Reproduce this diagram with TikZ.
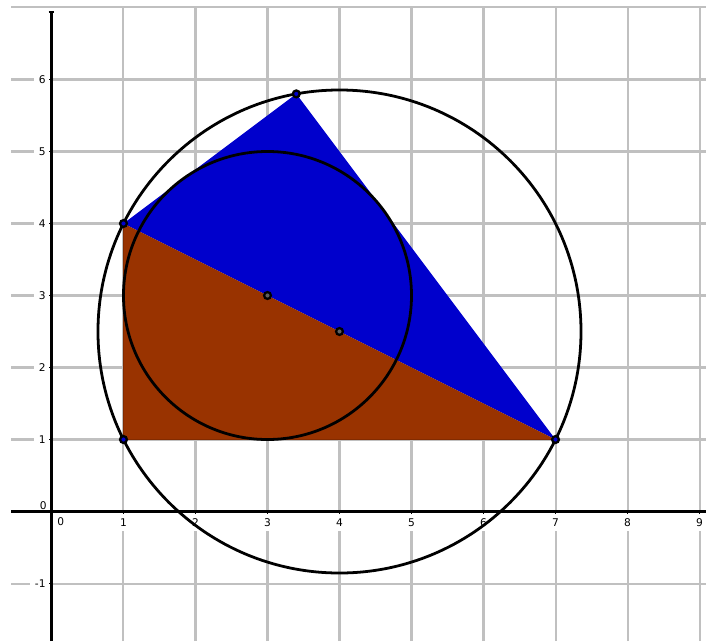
\documentclass[tikz,border=0pt]{standalone}
\usepackage{fontspec}
\setmainfont{DejaVu Sans}
\definecolor{triblue}{HTML}{0000CC}
\definecolor{tribrown}{HTML}{993300}
\definecolor{gridgray}{HTML}{C0C0C0}
\definecolor{ptgray}{HTML}{606060}
\begin{document}
\begin{tikzpicture}[x=1cm,y=1cm,
  gridline/.style={draw=gridgray, line width=0.8pt},
  axisline/.style={draw=black, line width=1.1pt},
  tickmark/.style={draw=black, line width=0.6pt},
  ticklab/.style={font=\fontsize{4.2}{5}\selectfont, fill=white, inner sep=2pt, text depth=0pt},
  zerolab/.style={font=\fontsize{4.2}{5}\selectfont, inner sep=0pt, text depth=0pt},
  circline/.style={draw=black, line width=1.1pt},
  dotpt/.style={circle, draw=black, line width=0.9pt, inner sep=0pt, minimum size=0.095cm},
  vertexpt/.style={dotpt, fill=triblue},
  midpt/.style={dotpt, fill=ptgray}]
\useasboundingbox (-0.715,-1.799) rectangle (9.09,7.104);
% grid
\foreach \x in {1,...,9} \draw[gridline] (\x,-1.8) -- (\x,7);
\foreach \y in {-1,1,2,3,4,5,6,7} \draw[gridline] (-0.56,\y) -- (9.09,\y);
% tick labels
\foreach \x in {1,...,9} \node[ticklab, anchor=north] (xl\x) at (\x,-0.02) {\x};
\foreach \y in {1,...,6} \node[ticklab, anchor=east] (yl\y) at (-0.005,\y) {\y};
\node[ticklab, anchor=east] (ylm1) at (-0.005,-1) {-1};
\node[zerolab] (xl0) at (0.13,-0.142) {0};
\node[zerolab] (yl0) at (-0.114,0.08) {0};
% axes
\draw[axisline] (-0.56,0) -- (9.09,0);
\draw[axisline] (0,-1.8) -- (0,6.94);
\draw[line width=0.8pt] (-0.04,6.94) -- (0.04,6.94);
\foreach \x in {1,...,9} \draw[tickmark] (\x,0) -- (\x,-0.04);
\foreach \y in {-1,1,2,3,4,5,6} \draw[tickmark] (0,\y) -- (-0.04,\y);
% key coordinates
\coordinate (a) at (1,1);
\coordinate (b) at (7,1);
\coordinate (c) at (1,4);
\coordinate (d) at (3.4,5.8);
% triangles
\fill[triblue] (c) -- (d) -- (b) -- cycle;
\fill[tribrown] (a) -- (b) -- (c) -- cycle;
\draw[draw=tribrown!85!black, line width=0.6pt] (c) -- (a) -- (b);
% circles
\draw[circline] (4,2.5) circle (3.3541);
\draw[circline] (3,3) circle (2);
% points
\node[vertexpt] (A) at (a) {};
\node[vertexpt] (B) at (b) {};
\node[vertexpt] (C) at (c) {};
\node[vertexpt] (D) at (d) {};
\node[midpt] (O) at (3,3) {};
\node[midpt] (M) at (4,2.5) {};
\end{tikzpicture}
\end{document}
